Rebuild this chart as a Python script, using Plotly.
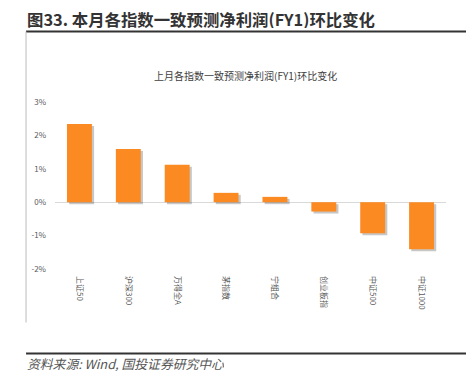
import plotly.graph_objects as go

categories = ["上证50", "沪深300", "万得全A", "茅指数", "宁组合", "创业板指", "中证500", "中证1000"]
values = [2.34, 1.59, 1.12, 0.28, 0.16, -0.28, -0.93, -1.41]
y_ticks = [-2, -1, 0, 1, 2, 3]
y_tick_labels = ["-2%", "-1%", "0%", "1%", "2%", "3%"]

# page has an 8px body margin: figure is placed at (8, 8)
O = 8
W, H = 474 - O, 382 - O
L, T = 55 - O, 101.7 - O
R, B = 27.5, 112.7

fig = go.Figure()
# soft shadow under bars
fig.add_trace(go.Bar(
    x=categories, y=values, base=[-0.06] * len(values),
    width=0.51, offset=-0.255 + 0.045,
    marker=dict(color="rgba(0,0,0,0.22)", line=dict(width=0)),
    hoverinfo="skip", showlegend=False,
))
fig.add_trace(go.Bar(
    x=categories, y=values,
    width=0.51, offset=-0.255,
    marker=dict(color="#FB8A22", line=dict(width=0)),
    showlegend=False,
))

fig.update_layout(
    width=W, height=H,
    margin=dict(l=L, r=R, t=T, b=B, pad=0),
    paper_bgcolor="white", plot_bgcolor="white",
    barmode="overlay",
    font=dict(family="Noto Sans CJK SC, sans-serif", color="#595959"),
    xaxis=dict(
        type="category", showgrid=False, zeroline=False, showline=False,
        ticks="", tickangle=90, tickfont=dict(size=8, color="#595959"),
        ticklabelstandoff=6,
    ),
    yaxis=dict(
        range=[-2, 3], tickvals=y_ticks, ticktext=y_tick_labels,
        showgrid=False, zeroline=True, zerolinecolor="#D9D9D9", zerolinewidth=1,
        showline=False, ticks="", tickfont=dict(size=8, color="#595959"),
        ticklabelstandoff=8,
    ),
)

def px_x(v):
    # v is page x coordinate
    return (v - O - L) / (W - L - R)

def px_y(v):
    return 1 - (v - O - T) / (H - T - B)

# header title
fig.add_annotation(
    text="<b>图33. 本月各指数一致预测净利润(FY1)环比变化</b>",
    xref="paper", yref="paper", x=px_x(26), y=px_y(18),
    xanchor="left", yanchor="middle", showarrow=False,
    height=18, valign="middle", borderpad=0,
    font=dict(size=16.4, color="#333333", family="Noto Sans CJK SC, sans-serif"),
)
# chart title
fig.add_annotation(
    text="上月各指数一致预测净利润(FY1)环比变化",
    xref="paper", yref="paper", x=px_x(246), y=px_y(75),
    xanchor="center", yanchor="middle", showarrow=False,
    font=dict(size=10, color="#404040", family="Noto Sans CJK SC, sans-serif"),
)
# source
fig.add_annotation(
    text="<i>资料来源: Wind, 国投证券研究中心</i>",
    xref="paper", yref="paper", x=px_x(26), y=px_y(363.5),
    xanchor="left", yanchor="middle", showarrow=False,
    height=16, valign="middle", borderpad=0,
    font=dict(size=12.8, color="#555555", family="Noto Sans CJK SC, sans-serif"),
)

# header underline
fig.add_shape(type="line", xref="paper", yref="paper", layer="above",
              x0=px_x(26), x1=px_x(474), y0=px_y(31), y1=px_y(31),
              line=dict(color="#333333", width=2))
# left border
fig.add_shape(type="line", xref="paper", yref="paper", layer="above",
              x0=px_x(26), x1=px_x(26), y0=px_y(31), y1=px_y(323),
              line=dict(color="#BBBBBB", width=1))
# footer line
fig.add_shape(type="line", xref="paper", yref="paper", layer="above",
              x0=px_x(26), x1=px_x(474), y0=px_y(354), y1=px_y(354),
              line=dict(color="#333333", width=2))

fig.write_html("out.html", config={"displayModeBar": False})
